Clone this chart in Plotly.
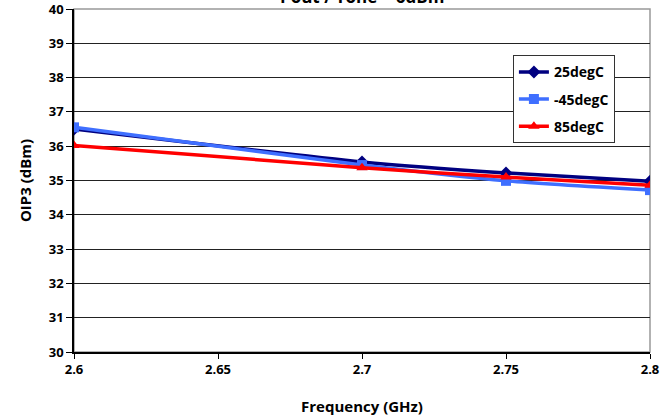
import plotly.graph_objects as go

freq = [2.6, 2.7, 2.75, 2.8]
oip3_25 = [36.50, 35.54, 35.22, 34.98]
oip3_m45 = [36.55, 35.45, 34.99, 34.72]
oip3_85 = [36.02, 35.37, 35.10, 34.86]

x_ticks = [2.6, 2.65, 2.7, 2.75, 2.8]
x_labels = ["2.6", "2.65", "2.7", "2.75", "2.8"]
y_ticks = [30, 31, 32, 33, 34, 35, 36, 37, 38, 39, 40]

series = [
    ("25degC", oip3_25, "#000080", "diamond"),
    ("-45degC", oip3_m45, "#3F6FFF", "square"),
    ("85degC", oip3_85, "#FF0000", "triangle-up"),
]

FONT = "Open Sans"
BOLD = dict(family=FONT, weight="bold", color="black")

fig = go.Figure()
for name, ys, col, sym in series:
    fig.add_trace(go.Scatter(
        x=freq, y=ys, name=name, legendgroup=name, mode="lines+markers",
        line=dict(color=col, width=3.5, shape="spline", smoothing=0.6),
        marker=dict(symbol=sym, size=10, color=col),
    ))

fig.update_layout(
    width=671, height=417,
    margin=dict(l=74, r=21, t=9, b=65, autoexpand=False),
    paper_bgcolor="white", plot_bgcolor="white",
    font=dict(family=FONT, size=13, color="black"),
    showlegend=True,
    legend=dict(
        x=0.762, y=0.865, xanchor="left", yanchor="top",
        bgcolor="white", bordercolor="#333333", borderwidth=1,
        font=dict(size=14, **BOLD),
        itemwidth=30, tracegroupgap=6,
    ),
    xaxis=dict(
        range=[2.6, 2.8], tickvals=x_ticks, ticktext=x_labels,
        showgrid=False, zeroline=False, automargin=False,
        showline=True, linecolor="black", linewidth=1.5,
        ticks="outside", ticklen=5, tickcolor="black",
        ticklabeloverflow="allow",
        tickfont=dict(size=13, **BOLD),
        title=dict(text="Frequency (GHz)", font=dict(size=15, **BOLD), standoff=24),
    ),
    yaxis=dict(
        range=[30, 40], tickvals=y_ticks,
        ticktext=["%d" % t for t in y_ticks],
        showgrid=True, gridcolor="#222222", gridwidth=1,
        zeroline=False, automargin=False,
        showline=True, linecolor="black", linewidth=1.5,
        ticks="outside", ticklen=6, tickcolor="black",
        ticklabeloverflow="allow",
        tickfont=dict(size=13, **BOLD),
        title=dict(text="OIP3 (dBm)", font=dict(size=15, **BOLD), standoff=14),
    ),
    shapes=[dict(type="rect", xref="paper", yref="paper", x0=0, x1=1, y0=0, y1=1,
                 line=dict(color="#999999", width=1.5), layer="below")],
    annotations=[dict(text="Pout / Tone = 6dBm", xref="paper", yref="paper",
                      x=0.5, y=1, xanchor="center", yanchor="middle", yshift=13,
                      showarrow=False,
                      font=dict(size=17, **BOLD))],
)

fig.write_html("out.html", config={"displayModeBar": False},
               post_script="document.body.style.margin='0';document.body.style.overflow='hidden';")
